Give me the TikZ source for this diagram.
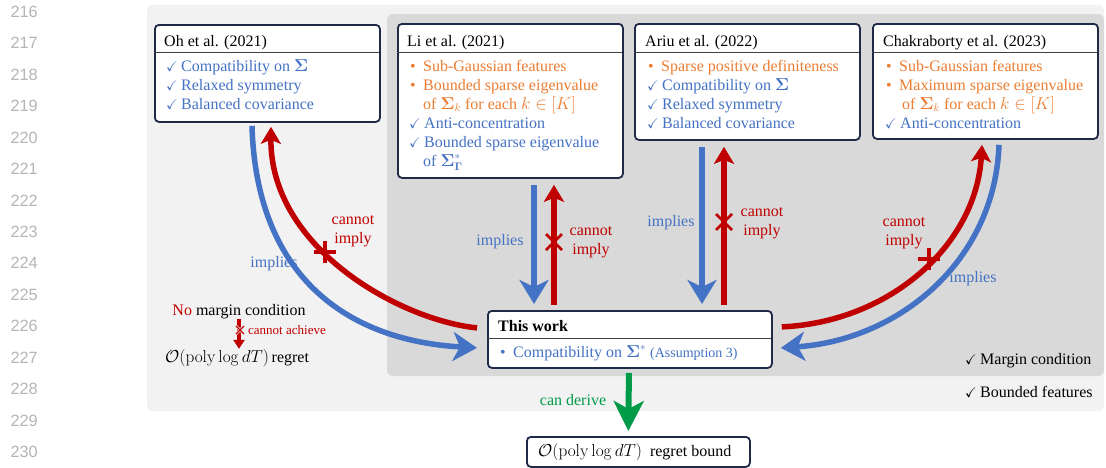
\documentclass[tikz,border=0pt]{standalone}
\usepackage{amsmath,amssymb}
\usepackage[no-math]{fontspec}
\setmainfont{Liberation Serif}
\newfontfamily\numfont{Liberation Sans}
\usetikzlibrary{arrows.meta,calc}
\definecolor{cblue}{HTML}{4472C4}
\definecolor{corange}{HTML}{ED7D31}
\definecolor{cred}{HTML}{C00000}
\definecolor{cgreen}{RGB}{0,155,72}
\definecolor{cnavy}{RGB}{30,42,72}
\definecolor{csep}{RGB}{64,64,64}
\definecolor{bglight}{HTML}{F2F2F2}
\definecolor{bgdark}{HTML}{D9D9D9}
\definecolor{lnumc}{HTML}{B5B5B5}
\newcommand\fsz[2]{\fontsize{#1}{#2}\selectfont}
\newcommand\chk{\makebox[15pt][l]{\fsz{14}{14}$\checkmark$}}
\newcommand\bul{\makebox[14pt][l]{\hspace{1pt}\textbullet}}
\newcommand\bS{\mathbf{\Sigma}}
\begin{document}
\begin{tikzpicture}[x=1pt,y=-1pt,
  paperbox/.style={draw=cnavy, line width=1.8pt, rounded corners=4pt, fill=white, inner sep=0pt, anchor=north west},
  sepline/.style={draw=csep, line width=1.8pt},
  ln/.style={anchor=base west, inner sep=0pt, font=\fsz{16}{19}},
  lnb/.style={ln, text=cblue},
  lno/.style={ln, text=corange},
  lbl/.style={inner sep=0pt, font=\fsz{16}{19}, align=center},
  bluearr/.style={draw=cblue, line width=5.5pt, -{Stealth[length=24pt,width=29pt,inset=7pt]}},
  redarr/.style={draw=cred, line width=5.5pt, -{Stealth[length=17pt,width=20pt,inset=4pt]}},
  greenarr/.style={draw=cgreen, line width=6pt, -{Stealth[length=30pt,width=30pt,inset=8pt]}},
  plusmark/.style={draw=cred, line width=3.2pt},
  xmark/.style={draw=cred, line width=2.8pt},
  lnum/.style={anchor=base east, inner sep=0pt, text=lnumc, font=\numfont\fsz{16.3}{18}}
]
\useasboundingbox (0,0) rectangle (1106,467);
\fill[white] (0,0) rectangle (1106,467);
% line numbers
\foreach \i in {0,...,14}{
  \node[lnum] (ln\i) at (38,{17.5+31.43*\i}) {\the\numexpr216+\i\relax};
}
% panels
\fill[bglight, rounded corners=6pt] (147,5) rectangle (1104,411);
\fill[bgdark, rounded corners=6pt] (387,14) rectangle (1104,376);

% Oh et al.
\node[paperbox, minimum width=225pt, minimum height=97pt] (oh) at (154,24) {};
\draw[sepline] (154,52.5) -- (379,52.5);
\node[ln] (oh-t) at (164,46) {Oh et al. (2021)};
\node[lnb] (oh-1) at (166,71) {\chk Compatibility on $\bS$};
\node[lnb] (oh-2) at (166,90) {\chk Relaxed symmetry};
\node[lnb] (oh-3) at (166,109) {\chk Balanced covariance};

% Li et al.
\node[paperbox, minimum width=225pt, minimum height=154pt] (li) at (397,23) {};
\draw[sepline] (397,52.5) -- (622,52.5);
\node[ln] (li-t) at (407,46) {Li et al. (2021)};
\node[lno] (li-1) at (409,71) {\bul Sub-Gaussian features};
\node[lno] (li-2) at (409,90) {\bul Bounded sparse eigenvalue};
\node[lno] (li-3) at (423,109) {of $\bS_k$ for each $k\in[K]$};
\node[lnb] (li-4) at (409,128) {\chk Anti-concentration};
\node[lnb] (li-5) at (409,147) {\chk Bounded sparse eigenvalue};
\node[lnb] (li-6) at (423,166) {of $\bS^*_{\mathbf{\Gamma}}$};

% Ariu et al.
\node[paperbox, minimum width=225pt, minimum height=116pt] (ariu) at (634,23) {};
\draw[sepline] (634,52.5) -- (859,52.5);
\node[ln] (ariu-t) at (645,46) {Ariu et al. (2022)};
\node[lno] (ariu-1) at (647,71) {\bul Sparse positive definiteness};
\node[lnb] (ariu-2) at (647,90) {\chk Compatibility on $\bS$};
\node[lnb] (ariu-3) at (647,109) {\chk Relaxed symmetry};
\node[lnb] (ariu-4) at (647,128) {\chk Balanced covariance};

% Chakraborty et al.
\node[paperbox, minimum width=225pt, minimum height=115pt] (chak) at (872,23) {};
\draw[sepline] (872,52.5) -- (1097,52.5);
\node[ln] (chak-t) at (883,46) {Chakraborty et al. (2023)};
\node[lno] (chak-1) at (885,71) {\bul Sub-Gaussian features};
\node[lno] (chak-2) at (885,90) {\bul Maximum sparse eigenvalue};
\node[lno] (chak-3) at (902,109) {of $\bS_k$ for each $k\in[K]$};
\node[lnb] (chak-4) at (885,128) {\chk Anti-concentration};

% This work
\node[paperbox, minimum width=284pt, minimum height=57pt] (tw) at (487,310) {};
\draw[sepline] (487,338.5) -- (771,338.5);
\node[ln, font=\fsz{16}{19}\bfseries] (tw-t) at (498,331) {This work};
\node[lnb] (tw-1) at (499,357) {\bul Compatibility on $\bS^*$ {\fsz{14}{16}(Assumption 3)}};

% regret bound
\node[paperbox, minimum width=223pt, minimum height=30pt] (reg) at (526,436) {};
\node[ln] (reg-t) at (538,456) {$\mathcal{O}(\mathrm{poly}\log dT)$\ \ regret bound};

% left annotation
\node[lbl, anchor=base] (nomargin) at (239,315) {\textcolor{cred}{No} margin condition};
\node[ln] (olreg) at (165,362) {$\mathcal{O}(\mathrm{poly}\log dT)$\,regret};
\draw[draw=cred, line width=4pt, -{Triangle[length=9pt,width=11pt]}] (nomargin.south) -- (nomargin.south |- olreg.north);
\draw[draw=bglight, line width=2.5pt] (236,326) -- (244,334) (236,334) -- (244,326);
\draw[draw=cred, line width=1.2pt] (236,326) -- (244,334) (236,334) -- (244,326);
\node[ln, text=cred, font=\fsz{13}{15}] (cach) at (248,334.5) {cannot achieve};

% right annotations
\node[ln] (mc) at (965,364) {\chk Margin condition};
\node[ln] (bf) at (965,397) {\chk Bounded features};

% connector endpoints
\coordinate (ohB) at ($(oh.south west)+(98,3)$);
\coordinate (ohR) at ($(oh.south west)+(117,4)$);
\coordinate (twLB) at ($(tw.west)+(-10,8.5)$);
\coordinate (twLR) at ($(tw.west)+(-10,-11.5)$);
\coordinate (twRR) at ($(tw.east)+(9,-12.5)$);
\coordinate (twRB) at ($(tw.east)+(8,8.5)$);
\coordinate (chR) at ($(chak.south west)+(110,5)$);
\coordinate (chB) at ($(chak.south west)+(127,5)$);
\coordinate (liB) at ($(li.south west)+(137,6)$);
\coordinate (liR) at ($(li.south west)+(157,6)$);
\coordinate (twLiB) at ($(tw.north west)+(47,-6)$);
\coordinate (twLiR) at ($(tw.north west)+(67,-5)$);
\coordinate (arB) at ($(ariu.south west)+(68,6)$);
\coordinate (arR) at ($(ariu.south west)+(90,6)$);
\coordinate (twArB) at ($(tw.north west)+(215,-6)$);
\coordinate (twArR) at ($(tw.north west)+(237,-5)$);
\coordinate (twG) at ($(tw.south)+(-1,4)$);
\coordinate (regG) at ($(reg.north)+(-10,-5)$);

% Oh arrows
\draw[bluearr] (ohB) .. controls (256,270) and (340,340) .. (twLB);
\draw[redarr] (twLR) .. controls (400,320) and (270,248) .. (ohR);
\draw[plusmark] (325,252) +(-11,0) -- +(11,0) (325,252) +(0,-11) -- +(0,11);
\node[lbl, text=cred] (ohci) at (353,231) {cannot\\imply};
\node[lbl, text=cblue] (ohim) at (274,264) {implies};

% Li arrows
\draw[bluearr] (liB) -- (twLiB);
\draw[redarr] (twLiR) -- (liR);
\draw[xmark] (554,242) +(-8,-8) -- +(8,8) (554,242) +(-8,8) -- +(8,-8);
\node[lbl, text=cblue] (liim) at (500,242) {implies};
\node[lbl, text=cred] (lici) at (591,242) {cannot\\imply};

% Ariu arrows
\draw[bluearr] (arB) -- (twArB);
\draw[redarr] (twArR) -- (arR);
\draw[xmark] (724,222) +(-8,-8) -- +(8,8) (724,222) +(-8,8) -- +(8,-8);
\node[lbl, text=cblue] (arim) at (671,223) {implies};
\node[lbl, text=cred] (arci) at (762,223) {cannot\\imply};

% Chakraborty arrows
\draw[redarr] (twRR) .. controls (890,322) and (976,245) .. (chR);
\draw[bluearr] (chB) .. controls (995,260) and (900,340) .. (twRB);
\draw[plusmark] (929,259) +(-11,0) -- +(11,0) (929,259) +(0,-11) -- +(0,11);
\node[lbl, text=cred] (chci) at (904,233) {cannot\\imply};
\node[lbl, text=cblue] (chim) at (973,279) {implies};

% green
\draw[greenarr] (twG) -- (regG);
\node[lbl, text=cgreen] (cd) at (573,400) {can derive};
\end{tikzpicture}
\end{document}
